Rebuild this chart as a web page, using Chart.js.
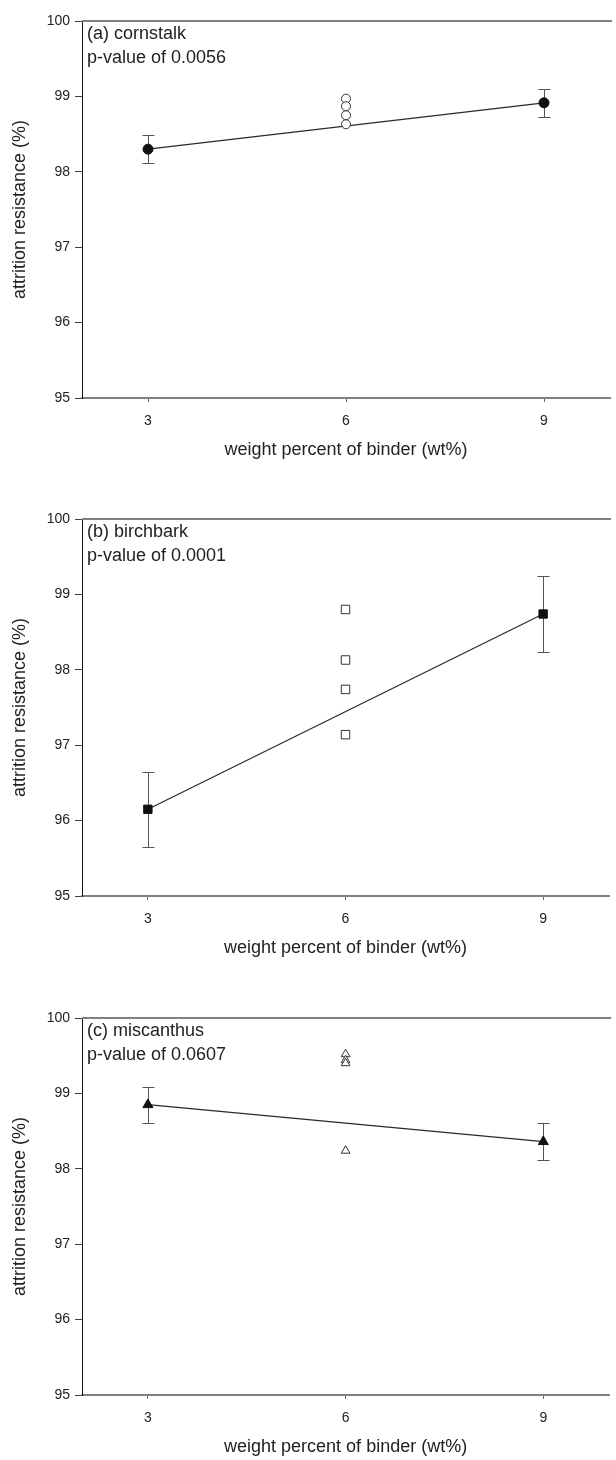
<!DOCTYPE html>
<html>
<head>
<meta charset="utf-8">
<script src="https://cdn.jsdelivr.net/npm/chart.js@4/dist/chart.umd.min.js"></script>
<style>
  html, body { margin: 0; padding: 0; background: #fff; width: 616px; height: 1460px; overflow: hidden; }
  .panel { position: absolute; left: 0; width: 616px; height: 463px; }
</style>
</head>
<body>
<div class="panel" style="top:0px"><canvas id="panelA" width="616" height="463"></canvas></div>
<div class="panel" style="top:498px"><canvas id="panelB" width="616" height="463"></canvas></div>
<div class="panel" style="top:997px"><canvas id="panelC" width="616" height="463"></canvas></div>
<script>
// Binder loadings (wt%) and axis ticks
const binderTicks = [3, 6, 9];
const xTickLabels = ['3', '6', '9'];
const meanLevels = [3, 9];        // levels reported as mean ± error
const replicateLevel = 6;         // level reported as individual replicates

// (a) cornstalk
const cornstalkMeans = [98.30, 98.915];
const cornstalkErr = [0.185, 0.185];
const cornstalkReplicates = [98.97, 98.87, 98.75, 98.63];
const cornstalkFit = [98.30, 98.915];

// (b) birchbark
const birchbarkMeans = [96.15, 98.74];
const birchbarkErr = [0.50, 0.50];
const birchbarkReplicates = [98.80, 98.13, 97.74, 97.14];
const birchbarkFit = [96.15, 98.74];

// (c) miscanthus
const miscanthusMeans = [98.85, 98.36];
const miscanthusErr = [0.24, 0.245];
const miscanthusReplicates = [99.52, 99.44, 99.40, 98.24];
const miscanthusFit = [98.85, 98.36];

const FONT = '"Liberation Sans", Arial, Helvetica, sans-serif';
Chart.defaults.font.family = FONT;
Chart.defaults.color = '#222';

// Frame top line, error bars and the in-panel caption
const panelDecor = {
  id: 'panelDecor',
  beforeDatasetsDraw(chart, args, opts) {
    const { ctx, chartArea, scales: { x, y } } = chart;
    ctx.save();
    ctx.strokeStyle = '#808080';
    ctx.lineWidth = 2;
    ctx.beginPath();
    ctx.moveTo(chartArea.left, chartArea.top);
    ctx.lineTo(chartArea.right + 2, chartArea.top);
    ctx.stroke();

    ctx.strokeStyle = '#555';
    ctx.lineWidth = 1;
    opts.levels.forEach((lv, i) => {
      const px = Math.round(x.getPixelForValue(lv)) + 0.5;
      const top = Math.round(y.getPixelForValue(opts.means[i] + opts.err[i])) + 0.5;
      const bot = Math.round(y.getPixelForValue(opts.means[i] - opts.err[i])) + 0.5;
      ctx.beginPath();
      ctx.moveTo(px, top); ctx.lineTo(px, bot);
      ctx.moveTo(px - 6, top); ctx.lineTo(px + 6, top);
      ctx.moveTo(px - 6, bot); ctx.lineTo(px + 6, bot);
      ctx.stroke();
    });

    ctx.fillStyle = '#222';
    ctx.font = '18px ' + FONT;
    ctx.textBaseline = 'middle';
    ctx.textAlign = 'left';
    ctx.fillText(opts.caption, chartArea.left + 5, chartArea.top + 13);
    ctx.fillText(opts.pValue, chartArea.left + 5, chartArea.top + 37);
    ctx.restore();
  }
};

function buildPanel(canvasId, caption, pValue, style, means, err, replicates, fit, sizes) {
  const meanPoints = meanLevels.map((lv, i) => ({ x: lv, y: means[i] }));
  const replicatePoints = replicates.map(v => ({ x: replicateLevel, y: v }));
  const fitPoints = meanLevels.map((lv, i) => ({ x: lv, y: fit[i] }));

  return new Chart(document.getElementById(canvasId), {
    type: 'scatter',
    data: {
      datasets: [
        {
          label: 'mean',
          data: meanPoints,
          pointStyle: style,
          pointRadius: sizes.filled,
          backgroundColor: '#111',
          borderColor: '#111',
          borderWidth: 1,
          order: 0
        },
        {
          label: 'replicates',
          data: replicatePoints,
          pointStyle: style,
          pointRadius: sizes.open,
          backgroundColor: '#fff',
          borderColor: '#333',
          borderWidth: 1,
          order: 1
        },
        {
          label: 'fit',
          data: fitPoints,
          showLine: true,
          pointRadius: 0,
          borderColor: '#2a2a2a',
          borderWidth: 1.2,
          order: 2
        }
      ]
    },
    options: {
      responsive: false,
      animation: false,
      layout: { padding: { top: 21, left: 0, right: 0, bottom: 0 } },
      plugins: {
        legend: { display: false },
        tooltip: { enabled: false },
        panelDecor: { levels: meanLevels, means: means, err: err, caption: caption, pValue: pValue }
      },
      scales: {
        x: {
          type: 'linear',
          min: 2,
          max: 10,
          afterBuildTicks: s => { s.ticks = binderTicks.map(v => ({ value: v })); },
          afterFit: s => { s.height = 65; },
          ticks: {
            font: { size: 14 },
            color: '#222',
            padding: 11,
            callback: (v) => xTickLabels[binderTicks.indexOf(v)]
          },
          grid: { drawOnChartArea: false, drawTicks: true, tickLength: 4, color: '#666', tickWidth: 1 },
          border: { display: true, color: '#808080', width: 2 },
          title: {
            display: true,
            text: 'weight percent of binder (wt%)',
            font: { size: 18 },
            color: '#222',
            padding: { top: 0, bottom: 2 }
          }
        },
        y: {
          type: 'linear',
          min: 95,
          max: 100,
          afterFit: s => { s.width = 82; },
          ticks: { stepSize: 1, font: { size: 14 }, color: '#222', padding: 5 },
          grid: { drawOnChartArea: false, drawTicks: true, tickLength: 7, color: '#444', tickWidth: 1 },
          border: { display: true, color: '#111', width: 1 },
          title: {
            display: true,
            text: 'attrition resistance (%)',
            font: { size: 18 },
            color: '#222',
            padding: { top: 9, bottom: 0 }
          }
        }
      }
    },
    plugins: [panelDecor]
  });
}

buildPanel('panelA', '(a) cornstalk', 'p-value of 0.0056', 'circle',
  cornstalkMeans, cornstalkErr, cornstalkReplicates, cornstalkFit, { filled: 5, open: 4.5 });
buildPanel('panelB', '(b) birchbark', 'p-value of 0.0001', 'rect',
  birchbarkMeans, birchbarkErr, birchbarkReplicates, birchbarkFit, { filled: 5.9, open: 6 });
buildPanel('panelC', '(c) miscanthus', 'p-value of 0.0607', 'triangle',
  miscanthusMeans, miscanthusErr, miscanthusReplicates, miscanthusFit, { filled: 5.8, open: 5 });
</script>
</body>
</html>
